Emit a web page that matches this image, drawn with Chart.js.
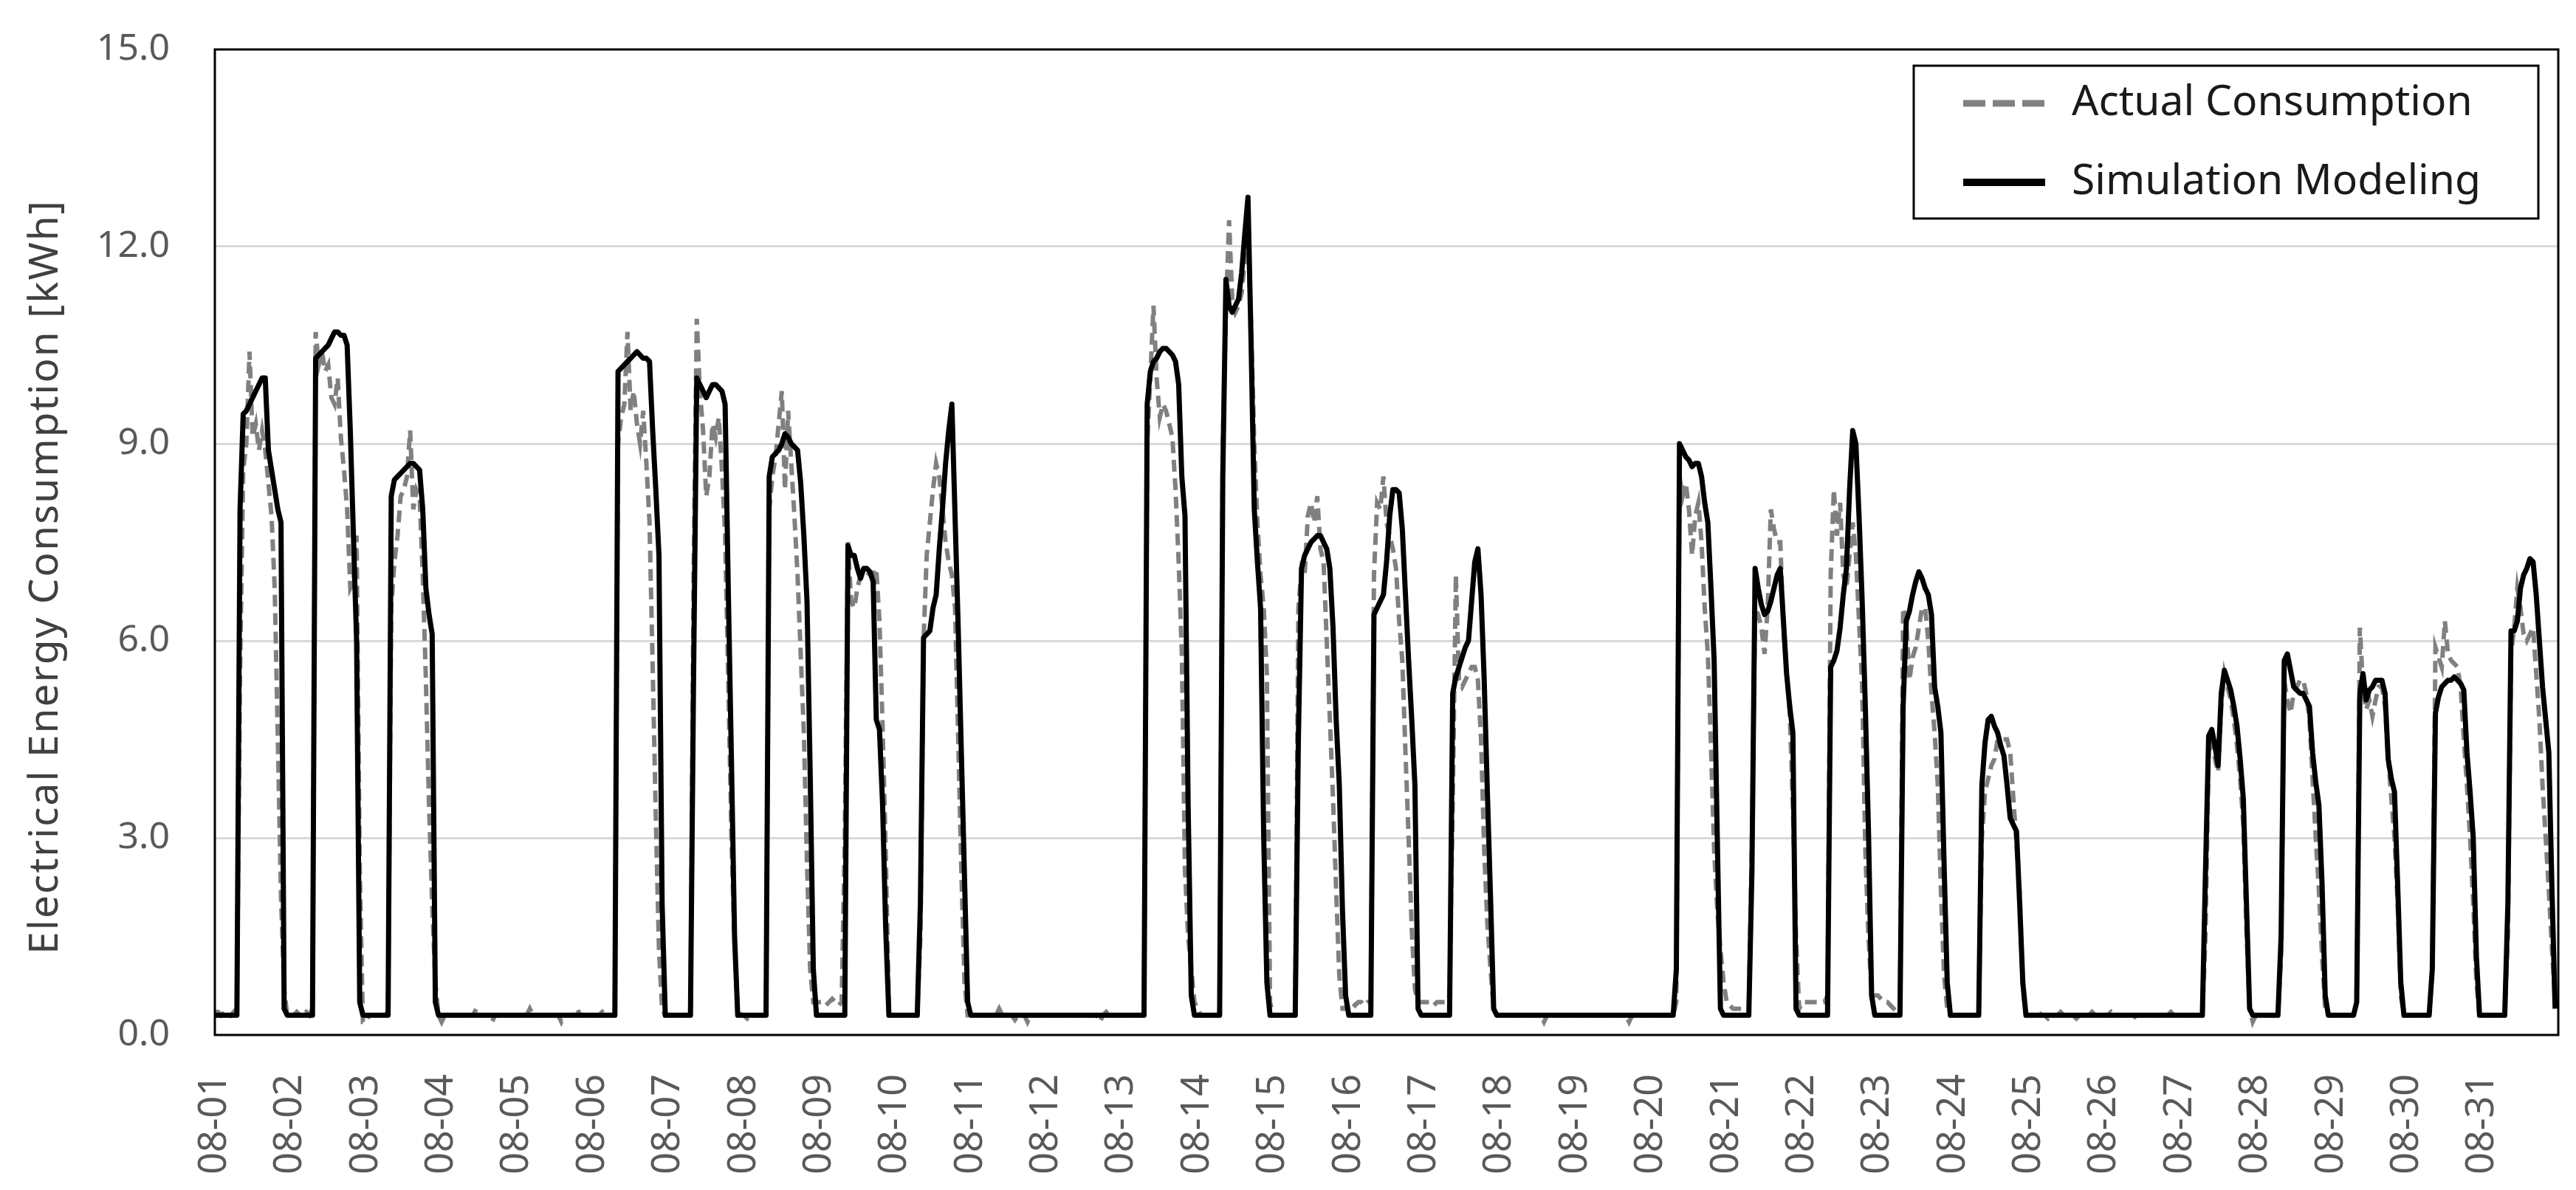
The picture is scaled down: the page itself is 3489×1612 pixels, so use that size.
<!DOCTYPE html>
<html>
<head>
<meta charset="utf-8">
<script src="https://cdn.jsdelivr.net/npm/chart.js"></script>
<style>
  html, body { margin: 0; padding: 0; background: #fff; }
  canvas { display: block; }
</style>
</head>
<body>
<canvas id="myChart" width="3489" height="1612"></canvas>
<script>
// day labels, one per 24 hourly values
const days = ['08-01','08-02','08-03','08-04','08-05','08-06','08-07','08-08','08-09','08-10',
    '08-11','08-12','08-13','08-14','08-15','08-16','08-17','08-18','08-19','08-20',
    '08-21','08-22','08-23','08-24','08-25','08-26','08-27','08-28','08-29','08-30','08-31']

const yTicks = [0, 3, 6, 9, 12, 15]

// hourly actual consumption [kWh], one row per day (0h..23h)
const actual = [
    0.35,0.35,0.3,0.35,0.35,0.3,0.35,0.4, 5.5,8.6,9.0,10.4,9.1,9.3,8.9,9.2,8.9,8.4,7.9,6.8,4.5,2.1,0.7,0.3,
    0.3,0.3,0.35,0.3,0.3,0.35,0.3,0.4, 10.7,10.2,10.4,10.1,10.2,9.7,9.6,10.0,9.1,8.6,8.0,6.8,6.9,7.6,2.5,0.2,
    0.2,0.3,0.3,0.3,0.35,0.3,0.3,0.35, 6.5,7.2,7.6,8.2,8.3,8.5,9.2,8.0,8.3,8.2,7.0,5.4,3.5,2.0,0.8,0.3,
    0.2,0.3,0.3,0.3,0.3,0.3,0.3,0.3,0.3,0.3,0.3,0.4,0.3,0.3,0.3,0.3,0.2,0.3,0.3,0.3,0.3,0.3,0.3,0.3,
    0.3,0.3,0.3,0.3,0.4,0.3,0.3,0.3,0.3,0.3,0.3,0.3,0.3,0.3,0.2,0.3,0.3,0.3,0.3,0.4,0.3,0.3,0.3,0.3,
    0.3,0.3,0.3,0.35,0.3,0.3,0.3,0.3, 9.0,9.4,9.6,10.7,9.5,9.8,9.3,9.0,9.5,8.7,7.8,5.6,3.3,1.3,0.4,0.3,
    0.3,0.3,0.3,0.3,0.3,0.3,0.3,0.3, 7.0,10.9,9.8,9.2,8.2,8.5,9.3,9.1,9.4,8.6,7.6,5.4,3.0,1.4,0.4,0.3,
    0.3,0.25,0.3,0.3,0.3,0.3,0.3,0.3, 8.0,8.5,8.8,9.3,9.8,8.3,9.5,8.7,7.9,7.0,5.8,4.6,2.6,1.0,0.5,0.5,
    0.5,0.5,0.45,0.5,0.55,0.5,0.45,0.5, 3.0,7.5,6.6,6.5,6.8,7.0,7.0,7.05,7.0,7.0,7.1,6.3,4.7,2.8,0.4,0.3,
    0.3,0.3,0.3,0.3,0.3,0.3,0.3,0.3, 1.5,6.0,7.3,7.8,8.3,8.7,8.5,8.0,7.5,7.2,7.0,6.5,4.5,2.5,0.8,0.3,
    0.3,0.3,0.3,0.3,0.3,0.3,0.3,0.3,0.3,0.4,0.3,0.3,0.3,0.3,0.23,0.3,0.3,0.3,0.2,0.3,0.3,0.3,0.3,0.3,
    0.3,0.3,0.3,0.3,0.3,0.3,0.3,0.3,0.3,0.3,0.3,0.3,0.3,0.3,0.3,0.3,0.3,0.2,0.3,0.35,0.3,0.3,0.3,0.3,
    0.3,0.3,0.3,0.3,0.3,0.3,0.3,0.3, 9.0,10.0,11.1,10.0,9.4,9.6,9.5,9.3,9.1,8.3,7.2,5.8,2.5,1.5,1.0,0.5,
    0.4,0.3,0.3,0.3,0.3,0.3,0.3,0.3, 9.0,11.0,12.4,11.2,11.0,11.1,11.3,11.8,12.2,10.8,9.0,7.8,7.0,6.5,5.5,0.5,
    0.3,0.3,0.3,0.3,0.3,0.3,0.3,0.3, 6.5,7.1,7.0,7.9,8.1,7.8,8.2,7.4,7.2,6.0,4.8,3.6,2.2,0.9,0.4,0.4,
    0.5,0.5,0.45,0.5,0.5,0.45,0.5,0.5, 7.0,8.1,8.0,8.5,7.8,7.6,7.4,7.1,6.3,5.7,4.3,3.0,1.6,0.7,0.5,0.5,
    0.5,0.5,0.5,0.45,0.5,0.5,0.5,0.5, 0.6,3.5,7.0,5.4,5.3,5.4,5.5,5.6,5.6,5.4,4.5,2.8,1.7,1.0,0.4,0.3,
    0.3,0.3,0.3,0.3,0.3,0.3,0.3,0.3,0.3,0.3,0.3,0.3,0.3,0.3,0.2,0.3,0.3,0.3,0.3,0.3,0.3,0.3,0.3,0.3,
    0.3,0.3,0.3,0.3,0.3,0.3,0.3,0.3,0.3,0.3,0.3,0.3,0.3,0.3,0.3,0.3,0.3,0.2,0.3,0.3,0.3,0.3,0.3,0.3,
    0.3,0.3,0.3,0.3,0.3,0.3,0.3,0.3, 0.5,8.5,8.2,8.4,8.0,7.3,7.9,8.1,7.5,6.5,5.8,4.4,2.8,1.9,1.3,0.8,
    0.5,0.45,0.4,0.4,0.4,0.4,0.4,0.4, 3.0,6.5,6.4,6.2,5.8,6.5,8.0,7.7,7.5,7.5,6.2,5.5,4.9,3.5,1.5,0.4,
    0.5,0.5,0.5,0.5,0.5,0.5,0.5,0.5, 0.6,7.0,8.3,7.6,8.1,7.0,6.8,7.3,7.8,7.3,6.3,5.3,2.8,1.5,0.6,0.6,
    0.6,0.55,0.5,0.5,0.45,0.4,0.35,0.35, 6.5,6.3,5.4,5.75,5.9,6.2,6.5,6.5,6.0,5.2,4.6,3.8,2.2,0.9,0.4,0.3,
    0.3,0.3,0.3,0.3,0.3,0.3,0.3,0.3, 0.3,3.0,3.7,3.9,4.1,4.2,4.5,4.5,4.5,4.5,4.3,3.6,2.9,2.2,0.7,0.3,
    0.3,0.3,0.3,0.35,0.3,0.3,0.25,0.3,0.3,0.3,0.35,0.3,0.3,0.3,0.3,0.25,0.3,0.3,0.3,0.3,0.35,0.3,0.3,0.3,
    0.3,0.3,0.35,0.3,0.3,0.3,0.3,0.3,0.3,0.25,0.3,0.3,0.3,0.35,0.3,0.3,0.3,0.3,0.3,0.3,0.3,0.35,0.3,0.3,
    0.3,0.3,0.3,0.3,0.3,0.3,0.3,0.3, 1.5,4.3,4.5,4.2,4.0,5.0,5.5,5.3,5.1,4.8,4.4,3.9,3.2,1.6,0.4,0.2,
    0.3,0.3,0.3,0.3,0.3,0.3,0.3,0.3, 1.2,5.4,5.1,4.9,5.2,5.3,5.4,5.4,5.2,4.8,3.9,3.0,2.2,1.2,0.4,0.3,
    0.3,0.3,0.3,0.3,0.3,0.3,0.3,0.3, 0.5,6.2,5.3,4.95,5.1,4.85,5.1,5.3,5.3,5.0,4.2,3.6,3.0,2.0,0.6,0.3,
    0.3,0.3,0.3,0.3,0.3,0.3,0.3,0.3, 1.0,5.9,5.75,5.6,6.3,5.8,5.7,5.65,5.6,5.3,4.5,3.8,3.0,2.0,0.8,0.3,
    0.3,0.3,0.3,0.3,0.3,0.3,0.3,0.3, 1.5,5.8,6.2,6.8,6.5,6.1,6.0,6.1,6.2,5.5,4.8,3.8,3.0,2.2,1.3,0.5
]

// hourly simulation modeling [kWh], one row per day (0h..23h)
const simulation = [
    0.3,0.3,0.3,0.3,0.3,0.3,0.3,0.3, 8.0,9.45,9.5,9.6,9.7,9.8,9.9,10.0,10.0,8.9,8.6,8.3,8.0,7.8,0.4,0.3,
    0.3,0.3,0.3,0.3,0.3,0.3,0.3,0.3, 10.3,10.35,10.4,10.45,10.5,10.6,10.7,10.7,10.65,10.65,10.5,9.2,7.6,6.0,0.5,0.3,
    0.3,0.3,0.3,0.3,0.3,0.3,0.3,0.3, 8.2,8.45,8.5,8.55,8.6,8.65,8.7,8.7,8.65,8.6,8.0,6.8,6.4,6.1,0.5,0.3,
    0.3,0.3,0.3,0.3,0.3,0.3,0.3,0.3,0.3,0.3,0.3,0.3,0.3,0.3,0.3,0.3,0.3,0.3,0.3,0.3,0.3,0.3,0.3,0.3,
    0.3,0.3,0.3,0.3,0.3,0.3,0.3,0.3,0.3,0.3,0.3,0.3,0.3,0.3,0.3,0.3,0.3,0.3,0.3,0.3,0.3,0.3,0.3,0.3,
    0.3,0.3,0.3,0.3,0.3,0.3,0.3,0.3, 10.1,10.15,10.2,10.25,10.3,10.35,10.4,10.35,10.3,10.3,10.25,9.2,8.3,7.3,2.0,0.3,
    0.3,0.3,0.3,0.3,0.3,0.3,0.3,0.3, 5.5,10.0,9.9,9.8,9.7,9.8,9.9,9.9,9.85,9.8,9.6,6.8,4.2,1.5,0.3,0.3,
    0.3,0.3,0.3,0.3,0.3,0.3,0.3,0.3, 8.5,8.8,8.85,8.9,9.0,9.15,9.1,9.0,8.95,8.9,8.4,7.6,6.6,4.0,1.0,0.3,
    0.3,0.3,0.3,0.3,0.3,0.3,0.3,0.3, 0.3,7.45,7.3,7.3,7.1,6.95,7.1,7.1,7.05,6.9,4.8,4.65,3.5,1.6,0.3,0.3,
    0.3,0.3,0.3,0.3,0.3,0.3,0.3,0.3, 2.0,6.05,6.1,6.15,6.5,6.7,7.4,8.0,8.7,9.2,9.6,7.9,6.2,4.3,2.4,0.5,
    0.3,0.3,0.3,0.3,0.3,0.3,0.3,0.3,0.3,0.3,0.3,0.3,0.3,0.3,0.3,0.3,0.3,0.3,0.3,0.3,0.3,0.3,0.3,0.3,
    0.3,0.3,0.3,0.3,0.3,0.3,0.3,0.3,0.3,0.3,0.3,0.3,0.3,0.3,0.3,0.3,0.3,0.3,0.3,0.3,0.3,0.3,0.3,0.3,
    0.3,0.3,0.3,0.3,0.3,0.3,0.3,0.3, 9.6,10.1,10.25,10.3,10.4,10.45,10.45,10.4,10.35,10.25,9.9,8.5,7.9,3.5,0.6,0.3,
    0.3,0.3,0.3,0.3,0.3,0.3,0.3,0.3, 8.5,11.5,11.1,11.0,11.1,11.2,11.6,12.2,12.75,10.5,8.0,7.2,6.5,3.0,0.8,0.3,
    0.3,0.3,0.3,0.3,0.3,0.3,0.3,0.3, 4.5,7.1,7.3,7.4,7.5,7.55,7.6,7.6,7.5,7.4,7.1,6.2,4.8,3.8,1.9,0.6,
    0.3,0.3,0.3,0.3,0.3,0.3,0.3,0.3, 6.4,6.5,6.6,6.7,7.2,7.9,8.3,8.3,8.25,7.7,6.7,5.7,4.8,3.8,0.4,0.3,
    0.3,0.3,0.3,0.3,0.3,0.3,0.3,0.3, 0.3,5.2,5.45,5.6,5.75,5.9,6.0,6.6,7.2,7.4,6.7,5.4,3.7,2.1,0.4,0.3,
    0.3,0.3,0.3,0.3,0.3,0.3,0.3,0.3,0.3,0.3,0.3,0.3,0.3,0.3,0.3,0.3,0.3,0.3,0.3,0.3,0.3,0.3,0.3,0.3,
    0.3,0.3,0.3,0.3,0.3,0.3,0.3,0.3,0.3,0.3,0.3,0.3,0.3,0.3,0.3,0.3,0.3,0.3,0.3,0.3,0.3,0.3,0.3,0.3,
    0.3,0.3,0.3,0.3,0.3,0.3,0.3,0.3, 1.0,9.0,8.9,8.8,8.75,8.65,8.7,8.7,8.5,8.1,7.8,6.8,5.7,3.0,0.4,0.3,
    0.3,0.3,0.3,0.3,0.3,0.3,0.3,0.3, 2.5,7.1,6.8,6.55,6.4,6.45,6.6,6.8,7.0,7.1,6.3,5.5,5.0,4.6,0.4,0.3,
    0.3,0.3,0.3,0.3,0.3,0.3,0.3,0.3, 0.3,5.6,5.7,5.85,6.2,6.7,7.1,8.3,9.2,9.0,7.9,6.6,5.0,3.1,0.6,0.3,
    0.3,0.3,0.3,0.3,0.3,0.3,0.3,0.3, 5.0,6.3,6.45,6.7,6.9,7.05,6.95,6.8,6.7,6.4,5.3,5.0,4.6,2.6,0.8,0.3,
    0.3,0.3,0.3,0.3,0.3,0.3,0.3,0.3, 0.3,3.8,4.45,4.8,4.85,4.7,4.6,4.4,4.25,3.8,3.3,3.2,3.1,2.0,0.8,0.3,
    0.3,0.3,0.3,0.3,0.3,0.3,0.3,0.3,0.3,0.3,0.3,0.3,0.3,0.3,0.3,0.3,0.3,0.3,0.3,0.3,0.3,0.3,0.3,0.3,
    0.3,0.3,0.3,0.3,0.3,0.3,0.3,0.3,0.3,0.3,0.3,0.3,0.3,0.3,0.3,0.3,0.3,0.3,0.3,0.3,0.3,0.3,0.3,0.3,
    0.3,0.3,0.3,0.3,0.3,0.3,0.3,0.3, 2.5,4.55,4.65,4.4,4.1,5.2,5.55,5.4,5.25,5.0,4.7,4.2,3.6,2.0,0.4,0.3,
    0.3,0.3,0.3,0.3,0.3,0.3,0.3,0.3, 1.5,5.7,5.8,5.55,5.3,5.25,5.2,5.2,5.1,5.0,4.3,3.85,3.5,2.3,0.6,0.3,
    0.3,0.3,0.3,0.3,0.3,0.3,0.3,0.3, 0.5,5.2,5.5,5.1,5.25,5.3,5.4,5.4,5.4,5.2,4.2,3.9,3.7,2.3,0.8,0.3,
    0.3,0.3,0.3,0.3,0.3,0.3,0.3,0.3, 1.0,4.9,5.15,5.3,5.35,5.4,5.4,5.45,5.4,5.35,5.25,4.3,3.7,3.0,1.2,0.3,
    0.3,0.3,0.3,0.3,0.3,0.3,0.3,0.3, 2.0,6.15,6.15,6.3,6.8,7.0,7.1,7.25,7.2,6.7,6.0,5.3,4.8,4.3,2.2,0.4
]

const yTitle = 'Electrical Energy Consumption [kWh]'

Chart.defaults.font.family = "'Noto Sans', sans-serif"

// Legend box inside the plot, top right
const legendBox = {
    id: 'legendBox',
    afterDraw(chart) {
        const ctx = chart.ctx
        const area = chart.chartArea
        const w = 846, h = 207
        const x = area.right - 27 - w
        const y = area.top + 22
        ctx.save()
        ctx.fillStyle = '#fff'
        ctx.fillRect(x, y, w, h)
        ctx.strokeStyle = '#000'
        ctx.lineWidth = 3
        ctx.strokeRect(x, y, w, h)

        const items = [chart.data.datasets[1], chart.data.datasets[0]]
        items.forEach((ds, i) => {
            const cy = y + 51 + i * 107
            ctx.beginPath()
            ctx.strokeStyle = ds.borderColor
            ctx.lineWidth = ds.borderWidth + 3
            ctx.setLineDash(ds.borderDash ? [30, 10] : [])
            ctx.lineCap = 'butt'
            ctx.moveTo(x + 67, cy)
            ctx.lineTo(x + 178, cy)
            ctx.stroke()
            ctx.setLineDash([])
            ctx.fillStyle = '#1a1a1a'
            ctx.font = "57px 'Noto Sans'"
            ctx.textBaseline = 'middle'
            ctx.fillText(ds.label, x + 214, cy)
        })
        ctx.restore()
    }
}

// Plot area border and y axis title
const plotBorder = {
    id: 'plotBorder',
    afterDatasetsDraw(chart) {
        const ctx = chart.ctx
        const a = chart.chartArea
        ctx.save()
        ctx.strokeStyle = '#000'
        ctx.lineWidth = 3
        ctx.strokeRect(a.left, a.top, a.right - a.left, a.bottom - a.top)

        ctx.translate(62, (a.top + a.bottom) / 2 + 47)
        ctx.rotate(-Math.PI / 2)
        ctx.fillStyle = '#404040'
        ctx.font = "55px 'Noto Sans'"
        if ('letterSpacing' in ctx) ctx.letterSpacing = '2px'
        ctx.textAlign = 'center'
        ctx.textBaseline = 'middle'
        ctx.fillText(yTitle, 0, 0)
        ctx.restore()
    }
}

const ctx = document.getElementById('myChart')
const chart = new Chart(ctx, {
    type: 'line',
    data: {
        datasets: [
            {
                label: 'Simulation Modeling',
                data: simulation.map((v, i) => ({ x: i, y: v })),
                borderColor: '#000000',
                borderWidth: 7,
                borderJoinStyle: 'round',
                pointRadius: 0,
                tension: 0,
                order: 0
            },
            {
                label: 'Actual Consumption',
                data: actual.map((v, i) => ({ x: i, y: v })),
                borderColor: '#808080',
                borderWidth: 6,
                borderDash: [16, 9],
                pointRadius: 0,
                tension: 0,
                order: 1
            }
        ]
    },
    options: {
        responsive: false,
        devicePixelRatio: 1,
        animation: false,
        layout: { padding: { top: 67, right: 24, left: 0, bottom: 0 } },
        plugins: {
            legend: { display: false },
            tooltip: { enabled: false }
        },
        scales: {
            x: {
                type: 'linear',
                min: 0,
                max: days.length * 24,
                afterFit: (scale) => { scale.height = 210 },
                afterBuildTicks: (scale) => {
                    scale.ticks = days.map((d, i) => ({ value: i * 24 }))
                },
                grid: { display: false, drawTicks: false },
                border: { display: false },
                ticks: {
                    autoSkip: false,
                    minRotation: 90,
                    maxRotation: 90,
                    padding: 53,
                    color: '#595959',
                    font: { size: 52 },
                    callback: (value) => days[value / 24]
                }
            },
            y: {
                min: 0,
                max: 15,
                afterFit: (scale) => { scale.width = 291 },
                afterBuildTicks: (scale) => {
                    scale.ticks = yTicks.map(v => ({ value: v }))
                },
                grid: {
                    color: (c) => (c.tick && (c.tick.value === 0 || c.tick.value === 15)) ? 'rgba(0,0,0,0)' : '#d9d9d9',
                    lineWidth: 3,
                    drawTicks: true,
                    tickLength: 61,
                    tickColor: 'rgba(0,0,0,0)'
                },
                border: { display: false },
                ticks: {
                    padding: 0,
                    color: '#595959',
                    font: { size: 50 },
                    callback: (value) => value.toFixed(1)
                }
            }
        }
    },
    plugins: [plotBorder, legendBox]
})
</script>
</body>
</html>
